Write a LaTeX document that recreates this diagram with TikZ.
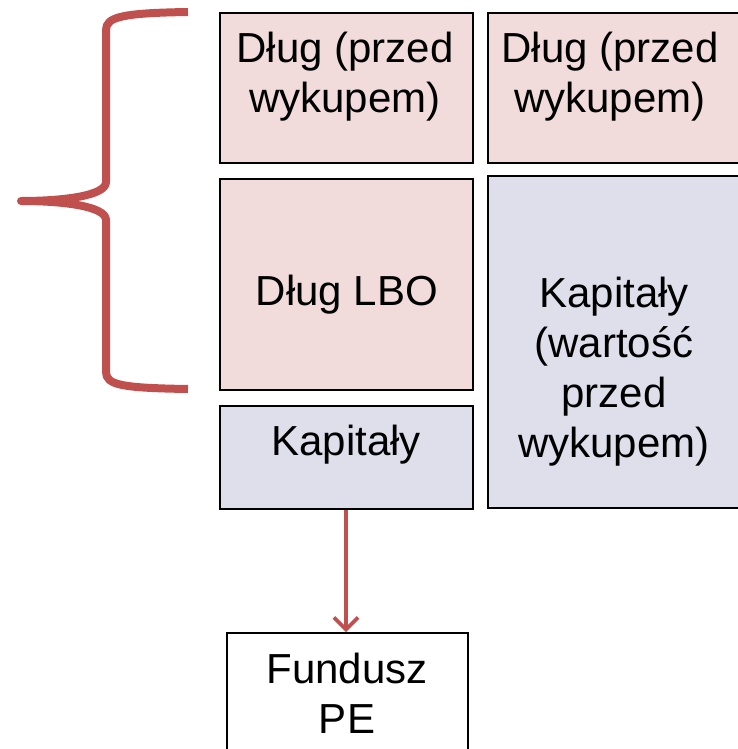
\documentclass[tikz,border=0pt]{standalone}
\usepackage{fontspec}
\setmainfont{Liberation Sans}
\usetikzlibrary{arrows.meta}
\definecolor{debtpink}{HTML}{F2DCDB}
\definecolor{eqlav}{HTML}{DFDEEB}
\definecolor{bracered}{HTML}{C0504D}
\begin{document}
\begin{tikzpicture}[x=1pt,y=-1pt,
  boxshape/.style={draw=black, line width=1.8pt, inner sep=0pt, anchor=north west},
  debtbox/.style={boxshape, fill=debtpink},
  eqbox/.style={boxshape, fill=eqlav},
  plainbox/.style={boxshape, fill=white},
  lbl/.style={anchor=base, align=center, inner sep=0pt, font=\fontsize{42}{50}\selectfont},
  bracestyle/.style={draw=bracered, line width=8pt, line join=round, line cap=butt},
  flow/.style={draw=bracered, line width=3.6pt, -{Straight Barb[length=12pt,width=24pt,line width=3.6pt]}}
]
\useasboundingbox (0,0) rectangle (737,749);
% boxes
\node[debtbox, minimum width=253pt, minimum height=150pt] (A) at (219,12) {};
\node[debtbox, minimum width=254pt, minimum height=150pt] (B) at (487,12) {};
\node[debtbox, minimum width=253pt, minimum height=211pt] (C) at (219,178) {};
\node[eqbox, minimum width=253pt, minimum height=103pt] (D) at (219,405) {};
\node[eqbox, minimum width=254pt, minimum height=332pt] (E) at (487,175) {};
\node[plainbox, minimum width=241pt, minimum height=130pt] (F) at (226,632) {};
% labels (base = baseline of the last line)
\node[lbl] (tA) at (345,113) {Dług (przed\\wykupem)};
\node[lbl] (tB) at (610,113) {Dług (przed\\wykupem)};
\node[lbl] (tC) at (347,305) {Dług LBO};
\node[lbl] (tD) at (346,455) {Kapitały};
\node[lbl] (tE) at (614,457) {Kapitały\\(wartość\\przed\\wykupem)};
\node[lbl] (tF) at (347,733) {Fundusz\\PE};
% brace
\coordinate (bt) at (188,12);
\coordinate (bm) at (21,201);
\coordinate (bb) at (188,389);
\draw[bracestyle] (bt) .. controls (122,13) and (106,17) .. (106,30)
  -- (106,182) .. controls (106,196) and (62,201) .. (bm)
  .. controls (62,201) and (106,206) .. (106,220)
  -- (106,372) .. controls (106,385) and (122,388) .. (bb);
% arrow
\draw[flow] (D.south -| 346,0) -- (F.north -| 346,0);
\end{tikzpicture}
\end{document}
